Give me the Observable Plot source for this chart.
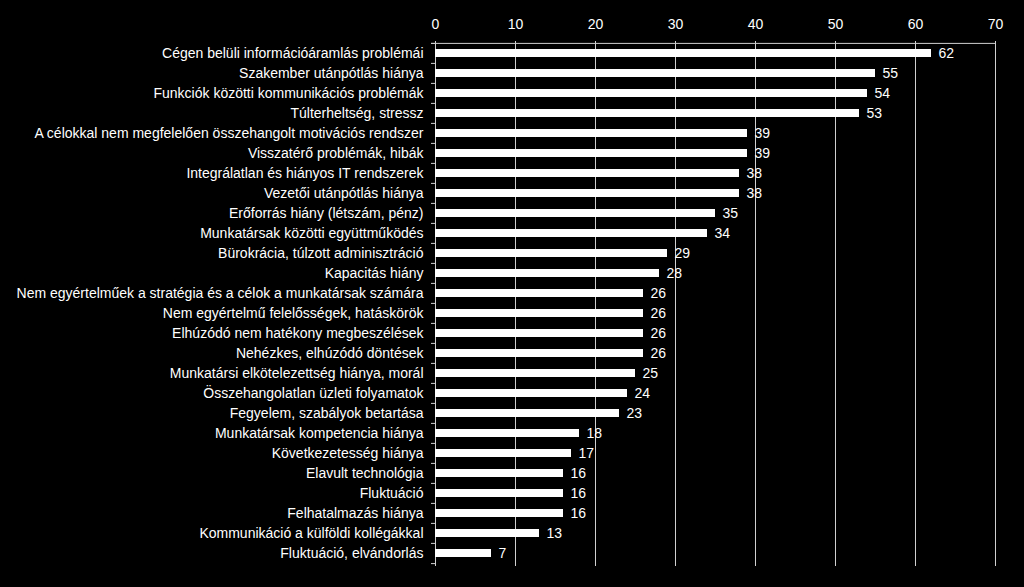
<!DOCTYPE html>
<html>
<head>
<meta charset="utf-8">
<script src="https://cdn.jsdelivr.net/npm/d3@7"></script>
<script src="https://cdn.jsdelivr.net/npm/@observablehq/plot@0.6"></script>
<style>
  html, body { margin: 0; padding: 0; background: #000; }
  #chart { width: 1024px; height: 587px; }
</style>
</head>
<body>
<div id="chart"></div>
<script>
const categories = [
  "Cégen belüli információáramlás problémái",
  "Szakember utánpótlás hiánya",
  "Funkciók közötti kommunikációs problémák",
  "Túlterheltség, stressz",
  "A célokkal nem megfelelően összehangolt motivációs rendszer",
  "Visszatérő problémák, hibák",
  "Integrálatlan és hiányos IT rendszerek",
  "Vezetői utánpótlás hiánya",
  "Erőforrás hiány (létszám, pénz)",
  "Munkatársak közötti együttműködés",
  "Bürokrácia, túlzott adminisztráció",
  "Kapacitás hiány",
  "Nem egyértelműek a stratégia és a célok a munkatársak számára",
  "Nem egyértelmű felelősségek, hatáskörök",
  "Elhúzódó nem hatékony megbeszélések",
  "Nehézkes, elhúzódó döntések",
  "Munkatársi elkötelezettség hiánya, morál",
  "Összehangolatlan üzleti folyamatok",
  "Fegyelem, szabályok betartása",
  "Munkatársak kompetencia hiánya",
  "Következetesség hiánya",
  "Elavult technológia",
  "Fluktuáció",
  "Felhatalmazás hiánya",
  "Kommunikáció a külföldi kollégákkal",
  "Fluktuáció, elvándorlás"
];
const values = [62, 55, 54, 53, 39, 39, 38, 38, 35, 34, 29, 28, 26, 26, 26, 26, 25, 24, 23, 18, 17, 16, 16, 16, 13, 7];
const xTicks = [0, 10, 20, 30, 40, 50, 60, 70];

const data = categories.map((c, i) => ({category: c, value: values[i]}));

const W = 1024, H = 587;
const mTop = 41, mBottom = 21, mLeft = 435, mRight = 29;
const step = (H - mTop - mBottom) / categories.length;
const gridColor = "#d0d0d0";

const chart = Plot.plot({
  width: W,
  height: H,
  marginTop: mTop,
  marginBottom: mBottom,
  marginLeft: mLeft,
  marginRight: mRight,
  style: {background: "#000", color: "#fff", fontFamily: "'Liberation Sans', Arial, sans-serif"},
  x: {domain: [0, 70], axis: null},
  y: {domain: categories, paddingInner: 0.58, paddingOuter: 0.29, axis: null},
  marks: [
    Plot.axisX(xTicks, {anchor: "top", tickSize: 0, tickPadding: 13, fontSize: 14, fill: "#fff", tickFormat: d => d, label: null}),
    Plot.axisY({anchor: "left", tickSize: 0, tickPadding: 12, fontSize: 14, fill: "#fff", label: null}),
    Plot.ruleX(xTicks, {stroke: gridColor, strokeWidth: 1}),
    Plot.ruleY(categories, {y: d => d, x1: -0.5, x2: 0, dy: -step / 2, stroke: gridColor}),
    Plot.ruleY([categories[0]], {y: d => d, x1: -0.5, x2: 70, dy: -step / 2, stroke: gridColor}),
    Plot.ruleY([categories[categories.length - 1]], {y: d => d, x1: -0.5, x2: 0, dy: step / 2, stroke: gridColor}),
    Plot.barX(data, {y: "category", x: "value", fill: "#fff"}),
    Plot.text(data, {y: "category", x: "value", text: d => String(d.value), textAnchor: "start", dx: 7, fill: "#fff", fontSize: 14})
  ]
});
document.getElementById("chart").appendChild(chart);
</script>
</body>
</html>
